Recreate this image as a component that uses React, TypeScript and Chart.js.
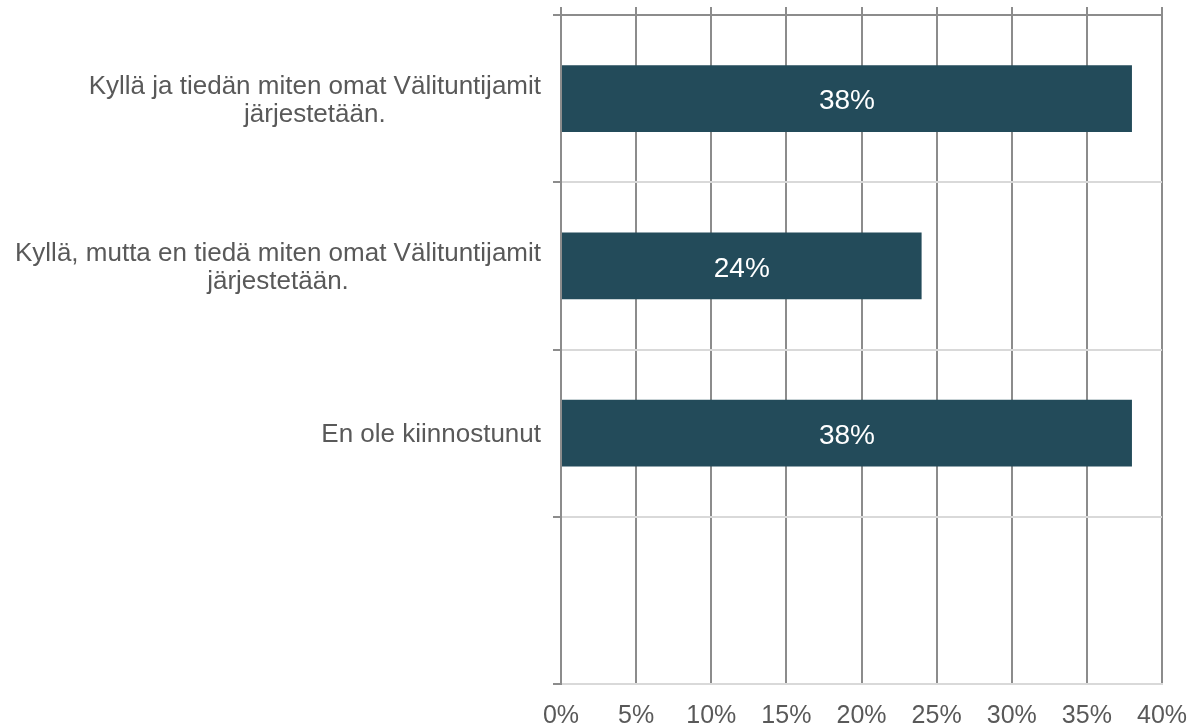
import React, { useEffect, useRef } from 'react';
import { Chart, registerables } from 'chart.js';

Chart.register(...registerables);

const categoryLines: string[][] = [
  ['Kyllä ja tiedän miten omat Välituntijamit', 'järjestetään.'],
  ['Kyllä, mutta en tiedä miten omat Välituntijamit', 'järjestetään.'],
  ['En ole kiinnostunut'],
  [''],
];
const values: (number | null)[] = [38, 24, 38, null];
const xTickValues = [0, 5, 10, 15, 20, 25, 30, 35, 40];

const FONT = '"Liberation Sans", Arial, sans-serif';
const TEXT_GRAY = '#595959';
const GRID_DARK = '#8c8c8c';
const GRID_LIGHT = '#d9d9d9';
const BAR = '#234B5A';

const W = 1198;
const H = 726;

const categoryLabelPlugin = {
  id: 'categoryLabels',
  afterDraw(chart: any) {
    const ctx = chart.ctx;
    const yScale = chart.scales.y;
    const right = yScale.right - 20;
    const size = 26;
    const lh = 28;
    ctx.save();
    ctx.font = `${size}px ${FONT}`;
    ctx.fillStyle = TEXT_GRAY;
    ctx.textAlign = 'center';
    ctx.textBaseline = 'middle';
    categoryLines.forEach((lines, i) => {
      const y = yScale.getPixelForTick(i) + 2;
      const maxW = Math.max(...lines.map((l) => ctx.measureText(l).width));
      const cx = right - maxW / 2;
      const startY = y - ((lines.length - 1) * lh) / 2;
      lines.forEach((l, j) => ctx.fillText(l, cx, startY + j * lh));
    });
    ctx.restore();
  },
};

const valueLabelPlugin = {
  id: 'valueLabels',
  afterDatasetsDraw(chart: any) {
    const ctx = chart.ctx;
    const meta = chart.getDatasetMeta(0);
    ctx.save();
    ctx.font = `28px ${FONT}`;
    ctx.fillStyle = '#ffffff';
    ctx.textAlign = 'center';
    ctx.textBaseline = 'middle';
    meta.data.forEach((bar: any, i: number) => {
      const v = values[i];
      if (v == null) return;
      const { x, y, base } = bar.getProps(['x', 'y', 'base'], true);
      ctx.fillText(`${v}%`, (x + base) / 2, y + 3);
    });
    ctx.restore();
  },
};

export default function App() {
  const ref = useRef<HTMLCanvasElement>(null);

  useEffect(() => {
    if (!ref.current) return;
    const chart = new Chart(ref.current, {
      type: 'bar',
      data: {
        labels: categoryLines.map((l) => l.join(' ')),
        datasets: [
          {
            data: values as any,
            backgroundColor: BAR,
            barPercentage: 0.4,
            categoryPercentage: 1,
          },
        ],
      },
      options: {
        indexAxis: 'y',
        animation: false,
        responsive: false,
        layout: { padding: { left: 0, right: 36, top: 0, bottom: 0 } },
        plugins: { legend: { display: false }, tooltip: { enabled: false } },
        scales: {
          x: {
            type: 'linear',
            position: 'bottom',
            min: 0,
            max: 40,
            afterBuildTicks: (s: any) => {
              s.ticks = xTickValues.map((v) => ({ value: v }));
            },
            afterFit: (s: any) => {
              s.height = 42;
              s.paddingLeft = 0;
              s.paddingRight = 0;
            },
            grid: { color: GRID_DARK, lineWidth: 2, drawTicks: false },
            border: { color: GRID_LIGHT, width: 2 },
            ticks: {
              padding: 17,
              color: TEXT_GRAY,
              font: { family: FONT, size: 25 },
              callback: (v: any) => `${v}%`,
            },
          },
          x2: {
            type: 'linear',
            axis: 'x',
            position: 'top',
            min: 0,
            max: 40,
            afterBuildTicks: (s: any) => {
              s.ticks = xTickValues.map((v) => ({ value: v }));
            },
            afterFit: (s: any) => {
              s.height = 15;
              s.paddingLeft = 0;
              s.paddingRight = 0;
            },
            grid: {
              drawOnChartArea: false,
              drawTicks: true,
              tickLength: 8,
              color: GRID_DARK,
              lineWidth: 2,
            },
            border: { color: GRID_DARK, width: 2 },
            ticks: { display: false },
          },
          y: {
            type: 'category',
            position: 'left',
            offset: true,
            afterFit: (s: any) => {
              s.width = 561;
            },
            grid: {
              offset: true,
              color: (c: any) => (c.index === 0 ? GRID_DARK : GRID_LIGHT),
              tickColor: GRID_DARK,
              lineWidth: 2,
              drawTicks: true,
              tickLength: 8,
            },
            border: { color: GRID_DARK, width: 2 },
            ticks: { display: false },
          },
        },
      } as any,
      plugins: [categoryLabelPlugin, valueLabelPlugin],
    });
    return () => chart.destroy();
  }, []);

  return (
    <div style={{ position: 'fixed', left: 0, top: 0, width: W, height: H, background: '#fff' }}>
      <canvas ref={ref} width={W} height={H} style={{ display: 'block' }} />
    </div>
  );
}
